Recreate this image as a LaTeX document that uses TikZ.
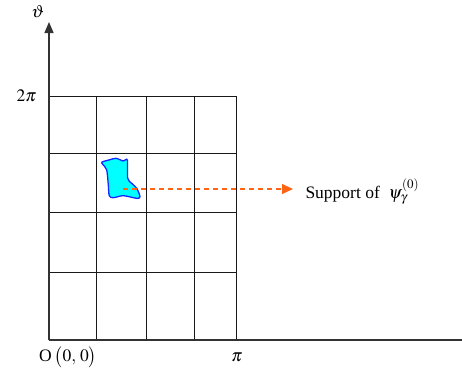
\documentclass[tikz,border=0pt]{standalone}
\usepackage{mathptmx}
\usepackage[no-math]{fontspec}
\setmainfont{Liberation Serif}
\usetikzlibrary{arrows.meta,positioning,calc}
\definecolor{blobfill}{RGB}{0,255,255}
\definecolor{blobline}{RGB}{20,40,255}
\definecolor{suporange}{RGB}{255,100,20}
\tikzset{
  every picture/.style={line width=1pt},
  saxis/.style={line width=1.3pt, draw=black!80},
  sgrid/.style={line width=0.9pt, draw=black!90},
  sblob/.style={fill=blobfill, draw=blobline, line width=1.3pt},
  sarrow/.style={draw=suporange, line width=1.2pt, dash pattern=on 5pt off 4pt,
                 -{Triangle[length=11pt,width=10pt,fill=suporange]}},
  slabel/.style={font=\fontsize{17.5}{21}\selectfont, inner sep=0pt},
}

\begin{document}
\begin{tikzpicture}[x=1pt,y=1pt]
  \useasboundingbox (-49,-36) rectangle (413,340);
  % grid
  \foreach \gx in {47,97,145,187}
    \draw[sgrid] (\gx,0) -- (\gx,244);
  \foreach \gy in {68,128,187,244}
    \draw[sgrid] (0,\gy) -- (187,\gy);
  % axes
  \coordinate (O) at (0,0);
  \coordinate (xend) at (413,0);
  \coordinate (yend) at (0,318);
  \draw[saxis] (O) -- (xend);
  \draw[saxis, -{Triangle[length=11pt,width=9pt]}] (O) -- (yend);
  \node[slabel] (theta) at (-11,328) {$\vartheta$};
  \node[slabel, anchor=east] (twopi) at (-12,244) {$2\pi$};
  \node[slabel] (pi) at (188,-17) {$\pi$};
  \node[slabel] (orig) at (19,-17) {O\,$\bigl(0,\,0\bigr)$};
  % support
  \draw[sblob] plot[smooth cycle, tension=0.5] coordinates {
    (53,178) (61,180.3) (67,181.7) (74.3,179) (78.3,180) (78.7,161.7)
    (82.7,156.7) (87.7,151.7) (91,143.3) (87.7,141.7) (74.3,144.3)
    (64.3,142.3) (60.3,144.3) (59.3,155) (57.7,170) (53.7,175.7)};
  \coordinate (blobc) at (74,151);
  \node[slabel, anchor=base west] (supp) at (256,142)
        {Support of\ \ $\psi_{\gamma}^{(0)}$};
  \draw[sarrow, shorten >=12pt] (blobc) -- (blobc -| supp.west);
\end{tikzpicture}
\end{document}
